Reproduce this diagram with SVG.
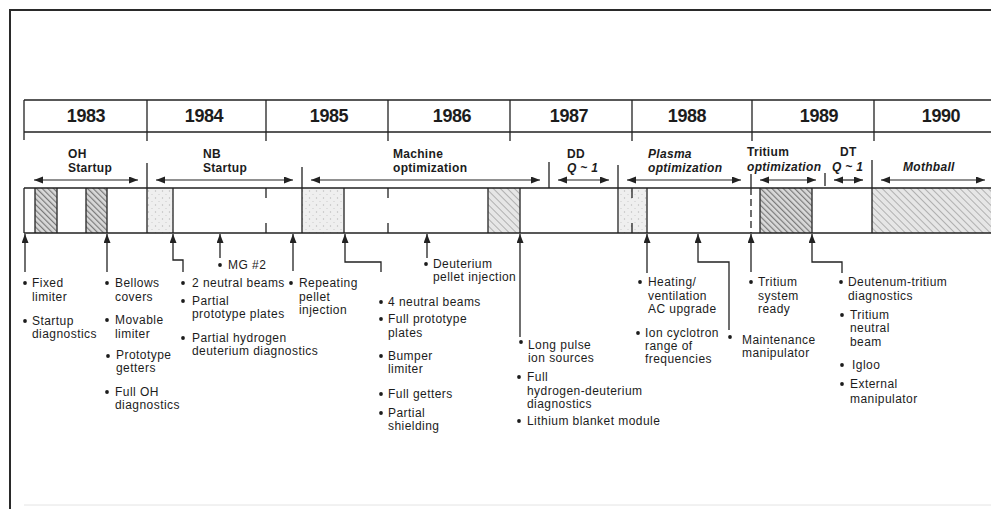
<svg xmlns="http://www.w3.org/2000/svg" width="991" height="509" viewBox="0 0 991 509">
<style>
.t{font-family:"Liberation Sans",Arial,sans-serif;font-size:12px;letter-spacing:0.45px;fill:#1c1c1c}
.yr{font-family:"Liberation Sans",Arial,sans-serif;font-size:18px;font-weight:bold;letter-spacing:-0.4px;fill:#1c1c1c;text-anchor:middle}
.ph{font-family:"Liberation Sans",Arial,sans-serif;font-size:12px;font-weight:bold;letter-spacing:0.3px;fill:#1c1c1c}
.it{font-style:italic}
.ln{stroke:#222;stroke-width:1.3;fill:none}
.ar{stroke:#222;stroke-width:1.3;fill:none;marker-end:url(#ah)}
.dim{stroke:#222;stroke-width:1.2;fill:none;marker-start:url(#ah);marker-end:url(#ah)}
.bu{fill:#1c1c1c}
.edge{stroke:#333;stroke-width:1.4}
</style>
<defs>
<marker id="ah" markerUnits="userSpaceOnUse" markerWidth="10" markerHeight="8" refX="9" refY="3.5" orient="auto-start-reverse">
<path d="M0,0 L9,3.5 L0,7 z" fill="#222"/>
</marker>
<pattern id="hatch" width="4" height="4" patternUnits="userSpaceOnUse" patternTransform="rotate(-45)">
<rect width="4" height="4" fill="#d9d9d9"/>
<line x1="0.6" y1="0" x2="0.6" y2="4" stroke="#7a7a7a" stroke-width="1.2"/>
</pattern>
<pattern id="lhatch" width="5" height="5" patternUnits="userSpaceOnUse" patternTransform="rotate(-45)">
<rect width="5" height="5" fill="#e6e6e6"/>
<line x1="0.5" y1="0" x2="0.5" y2="5" stroke="#b0b0b0" stroke-width="1"/>
</pattern>
<pattern id="stip" width="7" height="7" patternUnits="userSpaceOnUse">
<rect width="7" height="7" fill="#efefef"/>
<circle cx="1.5" cy="2" r="0.7" fill="#bdbdbd"/>
<circle cx="5" cy="5.5" r="0.6" fill="#c8c8c8"/>
</pattern>
</defs>
<rect width="991" height="509" fill="#fff"/>
<g id="frame">
<path d="M10,509 V10 H991" stroke="#2a2a2a" stroke-width="2" fill="none"/>
<line x1="24" y1="505" x2="991" y2="505" stroke="#e4e4e4" stroke-width="1"/>
</g>
<g id="years">
<path class="ln" d="M24,100 H991 M24,132 H991 M24,100 V140 M147,100 V141 M266,100 V141 M388,100 V141 M510,100 V141 M632,100 V141 M752,100 V141 M874,100 V141"/>
<g id="y1983"><text class="yr" x="86" y="122">1983</text></g>
<g id="y1984"><text class="yr" x="204" y="122">1984</text></g>
<g id="y1985"><text class="yr" x="329" y="122">1985</text></g>
<g id="y1986"><text class="yr" x="452" y="122">1986</text></g>
<g id="y1987"><text class="yr" x="569" y="122">1987</text></g>
<g id="y1988"><text class="yr" x="687" y="122">1988</text></g>
<g id="y1989"><text class="yr" x="819" y="122">1989</text></g>
<g id="y1990"><text class="yr" x="941" y="122">1990</text></g>
</g>
<g id="phases">
<g id="p-oh"><text class="ph" x="68" y="158">OH</text><text class="ph" x="68" y="172">Startup</text></g>
<g id="p-nb"><text class="ph" x="203" y="158">NB</text><text class="ph" x="203" y="172">Startup</text></g>
<g id="p-machine"><text class="ph" x="393" y="158">Machine</text><text class="ph" x="393" y="172">optimization</text></g>
<g id="p-dd"><text class="ph" x="567" y="158">DD</text><text class="ph it" x="567" y="172">Q ~ 1</text></g>
<g id="p-plasma"><text class="ph it" x="648" y="158">Plasma</text><text class="ph it" x="648" y="172">optimization</text></g>
<g id="p-tritium"><text class="ph" x="747" y="156">Tritium</text><text class="ph it" x="747" y="171">optimization</text></g>
<g id="p-dt"><text class="ph" x="840" y="156">DT</text><text class="ph it" x="832" y="171">Q ~ 1</text></g>
<g id="p-mothball"><text class="ph it" x="903" y="171">Mothball</text></g>
</g>
<g id="bar">
<rect x="35" y="188" width="22" height="45" fill="url(#hatch)"/>
<rect x="86" y="188" width="21" height="45" fill="url(#hatch)"/>
<rect x="147" y="188" width="26" height="45" fill="url(#stip)"/>
<rect x="302" y="188" width="42" height="45" fill="url(#stip)"/>
<rect x="488" y="188" width="32" height="45" fill="url(#lhatch)"/>
<rect x="619" y="188" width="28" height="45" fill="url(#stip)"/>
<rect x="760" y="188" width="52" height="45" fill="url(#hatch)"/>
<rect x="872" y="188" width="119" height="45" fill="url(#lhatch)"/>
<path class="edge" d="M35,188 V233 M57,188 V233 M86,188 V233 M107,188 V233 M173,188 V233 M344,188 V233 M488,188 V233 M520,188 V233 M647,188 V233 M760,188 V233 M812,188 V233"/>
<path class="ln" d="M24,188 H991 M24,233 H991 M24,188 V233"/>
<path class="ln" d="M266,188 V198 M266,223 V233 M388,188 V198 M388,223 V233 M632,188 V198 M632,223 V233"/>
</g>
<g id="connectors">
<path class="ln" d="M147,163 V233 M302,167 V233 M549,162 V188 M618,165 V233 M825,173 V186 M872,160 V233 M751,174 V188"/>
<path class="ln" d="M751,188 V233" stroke-dasharray="7,4"/>
<path class="dim" d="M34,180 H138"/>
<path class="dim" d="M156,180 H293"/>
<path class="dim" d="M311,180 H540"/>
<path class="dim" d="M558,180 H609"/>
<path class="dim" d="M627,180 H741"/>
<path class="dim" d="M760,180 H816"/>
<path class="dim" d="M834,180 H863"/>
<path class="dim" d="M881,180 H985"/>
<path class="ar" d="M25,272 V234"/>
<path class="ar" d="M107,272 V234"/>
<path class="ar" d="M183,272 V260 H173 V234"/>
<path class="ar" d="M220,258 V234"/>
<path class="ar" d="M293,271 V234"/>
<path class="ar" d="M381,272 V262 H345 V234"/>
<path class="ar" d="M427,258 V234"/>
<path class="ar" d="M520,337 V234"/>
<path class="ar" d="M647,273 V234"/>
<path class="ar" d="M729,330 V262 H698 V234"/>
<path class="ar" d="M751,272 V234"/>
<path class="ar" d="M842,273 V262 H812 V234"/>
</g>
<g id="n-1983a">
<circle class="bu" cx="25" cy="283" r="1.9"/><text class="t" x="32" y="287">Fixed</text><text class="t" x="32" y="301">limiter</text>
<circle class="bu" cx="25" cy="321" r="1.9"/><text class="t" x="32" y="325">Startup</text><text class="t" x="32" y="338">diagnostics</text>
</g>
<g id="n-1983b">
<circle class="bu" cx="107" cy="283" r="1.9"/><text class="t" x="115" y="287">Bellows</text><text class="t" x="115" y="301">covers</text>
<circle class="bu" cx="107" cy="320" r="1.9"/><text class="t" x="115" y="324">Movable</text><text class="t" x="115" y="338">limiter</text>
<circle class="bu" cx="108" cy="356" r="1.9"/><text class="t" x="116" y="359">Prototype</text><text class="t" x="116" y="372">getters</text>
<circle class="bu" cx="107" cy="392" r="1.9"/><text class="t" x="115" y="396">Full OH</text><text class="t" x="115" y="409">diagnostics</text>
</g>
<g id="n-mg2">
<circle class="bu" cx="220" cy="265" r="1.9"/><text class="t" x="228" y="269">MG #2</text>
</g>
<g id="n-1984">
<circle class="bu" cx="183" cy="283" r="1.9"/><text class="t" x="192" y="287">2 neutral beams</text>
<circle class="bu" cx="183" cy="301" r="1.9"/><text class="t" x="192" y="305">Partial</text><text class="t" x="192" y="318">prototype plates</text>
<circle class="bu" cx="183" cy="338" r="1.9"/><text class="t" x="192" y="342">Partial hydrogen</text><text class="t" x="192" y="355">deuterium diagnostics</text>
</g>
<g id="n-1985">
<circle class="bu" cx="291" cy="283" r="1.9"/><text class="t" x="299" y="287">Repeating</text><text class="t" x="299" y="301">pellet</text><text class="t" x="299" y="314">injection</text>
</g>
<g id="n-deut">
<circle class="bu" cx="426" cy="264" r="1.9"/><text class="t" x="433" y="268">Deuterium</text><text class="t" x="433" y="281">pellet injection</text>
</g>
<g id="n-1986">
<circle class="bu" cx="381" cy="302" r="1.9"/><text class="t" x="388" y="306">4 neutral beams</text>
<circle class="bu" cx="381" cy="319" r="1.9"/><text class="t" x="388" y="323">Full prototype</text><text class="t" x="388" y="337">plates</text>
<circle class="bu" cx="381" cy="356" r="1.9"/><text class="t" x="388" y="360">Bumper</text><text class="t" x="388" y="373">limiter</text>
<circle class="bu" cx="381" cy="394" r="1.9"/><text class="t" x="388" y="398">Full getters</text>
<circle class="bu" cx="381" cy="413" r="1.9"/><text class="t" x="388" y="417">Partial</text><text class="t" x="388" y="430">shielding</text>
</g>
<g id="n-1987">
<circle class="bu" cx="521" cy="342" r="1.9"/><text class="t" x="528" y="349">Long pulse</text><text class="t" x="528" y="362">ion sources</text>
<circle class="bu" cx="519" cy="377" r="1.9"/><text class="t" x="527" y="381">Full</text><text class="t" x="527" y="395">hydrogen-deuterium</text><text class="t" x="527" y="408">diagnostics</text>
<circle class="bu" cx="519" cy="421" r="1.9"/><text class="t" x="527" y="425">Lithium blanket module</text>
</g>
<g id="n-1988">
<circle class="bu" cx="640" cy="282" r="1.9"/><text class="t" x="648" y="286">Heating/</text><text class="t" x="648" y="300">ventilation</text><text class="t" x="648" y="313">AC upgrade</text>
<circle class="bu" cx="638" cy="333" r="1.9"/><text class="t" x="645" y="337">Ion cyclotron</text><text class="t" x="645" y="350">range of</text><text class="t" x="645" y="363">frequencies</text>
</g>
<g id="n-maint">
<circle class="bu" cx="730" cy="337" r="1.9"/><text class="t" x="742" y="344">Maintenance</text><text class="t" x="742" y="357">manipulator</text>
</g>
<g id="n-tritium">
<circle class="bu" cx="751" cy="282" r="1.9"/><text class="t" x="758" y="286">Tritium</text><text class="t" x="758" y="300">system</text><text class="t" x="758" y="313">ready</text>
</g>
<g id="n-1989">
<circle class="bu" cx="841" cy="282" r="1.9"/><text class="t" x="848" y="286">Deutenum-tritium</text><text class="t" x="848" y="300">diagnostics</text>
<circle class="bu" cx="842" cy="315" r="1.9"/><text class="t" x="850" y="319">Tritium</text><text class="t" x="850" y="332">neutral</text><text class="t" x="850" y="346">beam</text>
<circle class="bu" cx="842" cy="365" r="1.9"/><text class="t" x="852" y="369">Igloo</text>
<circle class="bu" cx="842" cy="384" r="1.9"/><text class="t" x="850" y="388">External</text><text class="t" x="850" y="403">manipulator</text>
</g>
</svg>
